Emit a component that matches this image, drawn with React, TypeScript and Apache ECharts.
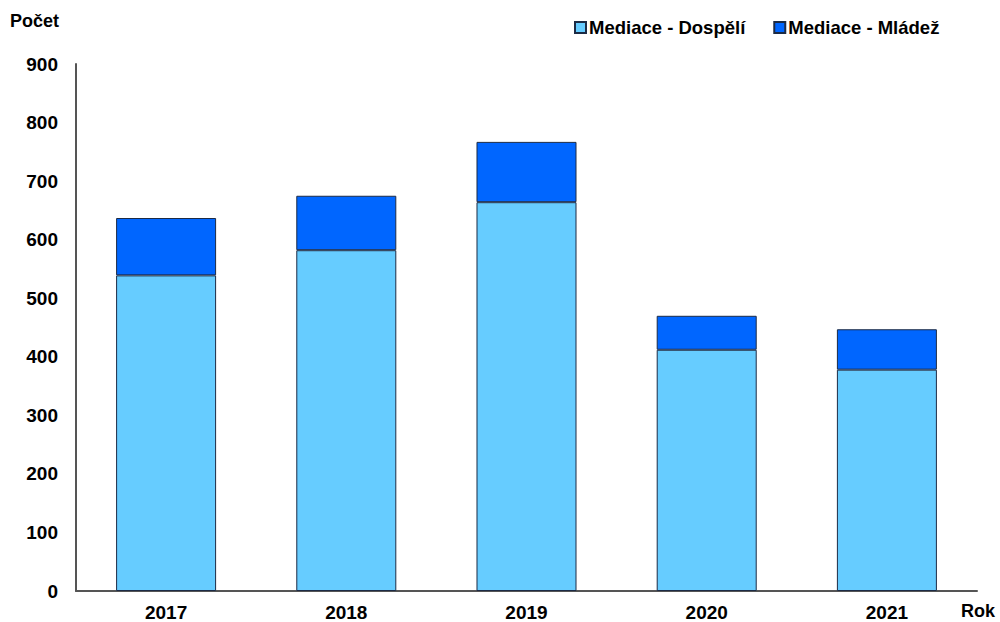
import React, { useEffect, useRef } from "react";
import * as echarts from "echarts";

const years = ["2017", "2018", "2019", "2020", "2021"];
const dospeli = [539, 582, 664, 412, 378];
const mladez = [98, 93, 103, 58, 69];
const yTicks = { min: 0, max: 900, interval: 100 };

const FONT = "Liberation Sans, Arial, sans-serif";

export default function App() {
  const ref = useRef<HTMLDivElement>(null);
  useEffect(() => {
    if (!ref.current) return;
    const chart = echarts.init(ref.current, undefined, { renderer: "svg" });
    chart.setOption({
      animation: false,
      backgroundColor: "#ffffff",
      textStyle: { fontFamily: FONT },
      grid: { left: 76, right: 23, top: 64, bottom: 30, containLabel: false },
      legend: {
        left: 569,
        top: 13,
        itemWidth: 11,
        itemHeight: 11,
        itemGap: 28,
        icon: "rect",
        textStyle: { fontFamily: FONT, fontSize: 18.5, fontWeight: "bold", color: "#000", padding: [0, 0, 0, -2] },
        data: ["Mediace - Dospělí", "Mediace - Mládež"],
      },
      graphic: [
        {
          type: "text",
          left: 10,
          top: 12,
          style: { text: "Počet", font: `bold 18px ${FONT}`, fill: "#000" },
        },
        {
          type: "text",
          left: 961,
          top: 602,
          style: { text: "Rok", font: `bold 18px ${FONT}`, fill: "#000" },
        },
      ],
      xAxis: {
        type: "category",
        data: years,
        axisLine: { lineStyle: { color: "#555", width: 2 } },
        axisTick: { show: false },
        axisLabel: { fontFamily: FONT, fontSize: 19, fontWeight: "bold", color: "#000", margin: 12 },
      },
      yAxis: {
        type: "value",
        min: yTicks.min,
        max: yTicks.max,
        interval: yTicks.interval,
        axisLine: { show: true, lineStyle: { color: "#555", width: 2 } },
        axisTick: { show: false },
        splitLine: { show: false },
        axisLabel: { fontFamily: FONT, fontSize: 19, fontWeight: "bold", color: "#000", margin: 18 },
      },
      series: [
        {
          name: "Mediace - Dospělí",
          type: "bar",
          stack: "total",
          data: dospeli,
          barWidth: "55.5%",
          itemStyle: { color: "#66CCFF", borderColor: "#1c2b45", borderWidth: 1 },
        },
        {
          name: "Mediace - Mládež",
          type: "bar",
          stack: "total",
          data: mladez,
          barWidth: "55.5%",
          itemStyle: { color: "#0066FF", borderColor: "#1c2b45", borderWidth: 1 },
        },
      ],
    });
    return () => chart.dispose();
  }, []);
  return <div ref={ref} style={{ width: 1000, height: 622, position: "absolute", left: 0, top: 0 }} />;
}
